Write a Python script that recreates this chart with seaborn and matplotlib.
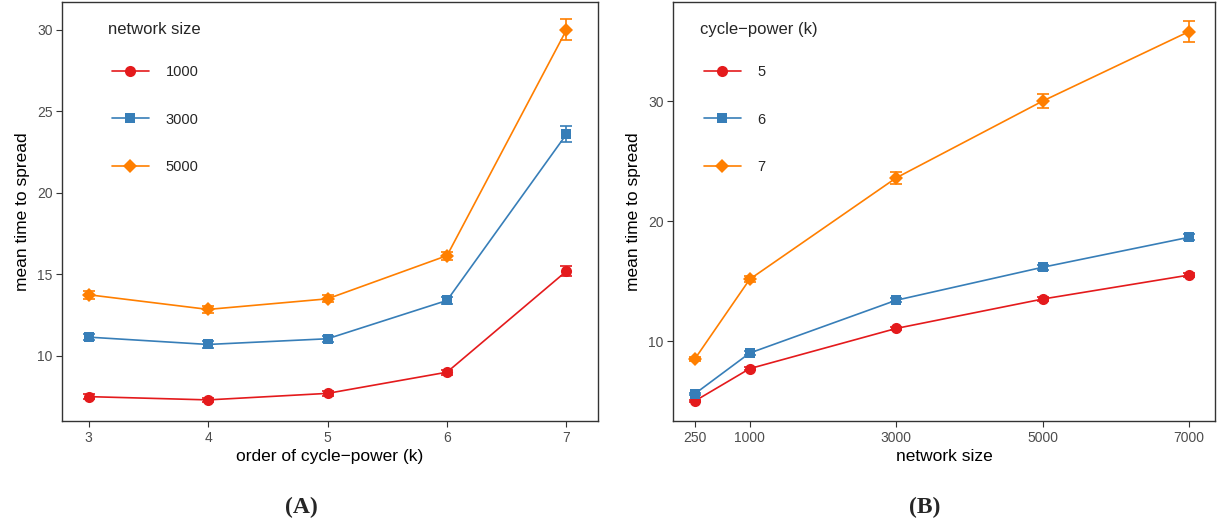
import numpy as np
import pandas as pd
import matplotlib
matplotlib.use("Agg")
import matplotlib.pyplot as plt
import seaborn as sns

# ---- data ----
k_values = [3, 4, 5, 6, 7]
sizes_A = ["1000", "3000", "5000"]
mean_A_1000 = [7.5, 7.3, 7.7, 9.0, 15.2]
mean_A_3000 = [11.15, 10.7, 11.05, 13.4, 23.6]
mean_A_5000 = [13.75, 12.85, 13.5, 16.15, 30.0]
err_A_1000 = [0.15, 0.12, 0.15, 0.15, 0.3]
err_A_3000 = [0.2, 0.2, 0.18, 0.2, 0.5]
err_A_5000 = [0.25, 0.22, 0.22, 0.25, 0.65]

n_values = [250, 1000, 3000, 5000, 7000]
powers_B = ["5", "6", "7"]
mean_B_5 = [5.0, 7.7, 11.05, 13.5, 15.5]
mean_B_6 = [5.6, 9.0, 13.4, 16.15, 18.65]
mean_B_7 = [8.5, 15.15, 23.6, 30.0, 35.8]
err_B_5 = [0.1, 0.15, 0.15, 0.2, 0.2]
err_B_6 = [0.1, 0.15, 0.18, 0.2, 0.25]
err_B_7 = [0.15, 0.25, 0.5, 0.6, 0.9]

colors = ["#E41A1C", "#377EB8", "#FF7F00"]
markers = ["o", "s", "D"]
marker_sizes = {"o": 8, "s": 6.6, "D": 7}

dfA = pd.DataFrame({
    "k": k_values * 3,
    "mean": mean_A_1000 + mean_A_3000 + mean_A_5000,
    "err": err_A_1000 + err_A_3000 + err_A_5000,
    "network size": sum([[s] * 5 for s in sizes_A], []),
})
dfB = pd.DataFrame({
    "n": n_values * 3,
    "mean": mean_B_5 + mean_B_6 + mean_B_7,
    "err": err_B_5 + err_B_6 + err_B_7,
    "cycle-power (k)": sum([[s] * 5 for s in powers_B], []),
})

sns.set_style("white")
plt.rcParams["font.family"] = ["Liberation Sans", "DejaVu Sans"]

fig = plt.figure(figsize=(12.22, 5.29), dpi=100)
axA = fig.add_axes([0.051, 0.204, 0.438, 0.792])
axB = fig.add_axes([0.551, 0.204, 0.443, 0.792])

def resize(lines):
    for ln in lines:
        m = ln.get_marker()
        if m in marker_sizes:
            ln.set_markersize(marker_sizes[m])

def draw(ax, df, xcol, hcol, levels, xticks, xlabel, ylim, yticks, xlim, legx):
    pal = dict(zip(levels, colors))
    mk = dict(zip(levels, markers))
    for lev in levels:
        sub = df[df[hcol] == lev]
        ax.errorbar(sub[xcol], sub["mean"], yerr=sub["err"], fmt="none",
                    ecolor=pal[lev], elinewidth=1.2, capsize=4.5, capthick=1.2,
                    zorder=1)
    sns.lineplot(data=df, x=xcol, y="mean", hue=hcol, style=hcol,
                 hue_order=levels, style_order=levels, palette=pal,
                 markers=mk, dashes=False, linewidth=1.2, markersize=8,
                 markeredgewidth=0, ax=ax, errorbar=None, zorder=2)
    resize(ax.lines)
    ax.set_xlim(*xlim)
    ax.set_ylim(*ylim)
    ax.set_xticks(xticks)
    ax.set_xticklabels([str(x) for x in xticks])
    ax.set_yticks(yticks)
    ax.set_xlabel(xlabel, fontsize=12.5, color="black", labelpad=3)
    ax.set_ylabel("mean time to spread", fontsize=12.5, color="black", labelpad=5)
    ax.tick_params(axis="both", which="both", direction="out", length=4,
                   width=0.8, color="#333333", labelsize=10, labelcolor="#4D4D4D",
                   bottom=True, left=True, pad=3)
    for sp in ax.spines.values():
        sp.set_color("#333333")
        sp.set_linewidth(1.0)
    handles, labels = ax.get_legend_handles_labels()
    hl = [(h, l) for h, l in zip(handles, labels) if l in levels]
    resize([h for h, l in hl])
    leg = ax.legend([h for h, l in hl], [l for h, l in hl], title=hcol,
                    loc="upper left", bbox_to_anchor=(legx, 0.966), frameon=False,
                    fontsize=10.5, title_fontsize=12, labelspacing=2.3,
                    handlelength=2.6, handletextpad=1.1, borderaxespad=0)
    resize(leg.get_lines())
    leg._legend_box.align = "left"
    leg._legend_box.sep = 20
    leg.get_title().set_position((-4, 0))
    return leg

draw(axA, dfA, "k", "network size", sizes_A, k_values,
     "order of cycle\u2212power (k)", (6.0, 31.7), [10, 15, 20, 25, 30],
     (2.78, 7.26), 0.081)
legB = draw(axB, dfB, "n", "cycle-power (k)", powers_B, n_values,
            "network size", (3.33, 38.25), [10, 20, 30], (-43, 7350), 0.045)
legB.set_title("cycle\u2212power (k)")
legB.get_title().set_fontsize(12)
legB.get_title().set_position((-4, 0))
legB._legend_box.sep = 20

fig.text(0.247, 0.04, "(A)", ha="center", va="center", fontsize=17,
         fontweight="bold", family=["Liberation Serif", "DejaVu Serif"])
fig.text(0.757, 0.04, "(B)", ha="center", va="center", fontsize=17,
         fontweight="bold", family=["Liberation Serif", "DejaVu Serif"])

fig.savefig("out.png", dpi=100)
